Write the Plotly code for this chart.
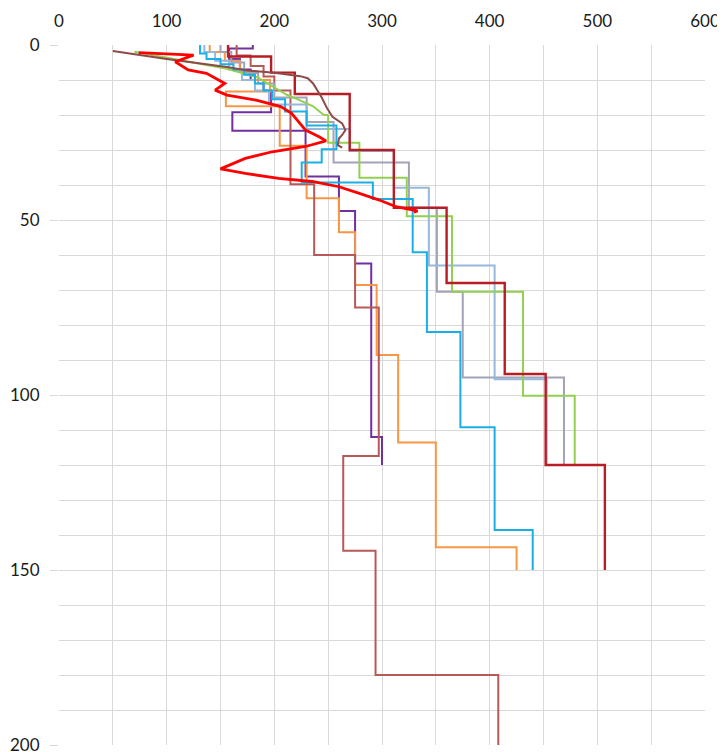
import plotly.graph_objects as go

# ---- layered step profiles: velocity per layer, depth boundaries (len = len(v)+1)
purple_v = [180, 158, 168, 178, 190, 197, 161, 229, 260, 275, 290, 300]
purple_z = [0, 1, 4, 7, 10, 13, 19.2, 24.5, 37.6, 47.4, 62.4, 112, 120]

orange_v = [140, 154, 168, 182, 196, 155, 205, 230, 260, 275, 295, 315, 350, 425]
orange_z = [0, 2, 4.5, 7.5, 10, 13.3, 17.5, 28.8, 43.8, 53.5, 68.6, 88.6, 113.6, 143.5, 150]

indred_v = [165, 178, 190, 200, 215, 237, 275, 297, 264, 294, 408]
indred_z = [0, 3, 6, 9, 13, 39.8, 60, 75, 117.4, 144.5, 180, 200]

gray_v = [150, 160, 172, 185, 200, 230, 255, 325, 351, 375, 469]
gray_z = [0, 2, 5, 8, 11, 15, 22, 33.6, 46.5, 70.5, 95, 120]

ltblue_v = [135, 145, 158, 170, 182, 195, 230, 270, 311, 343.5, 404.6, 453]
ltblue_z = [0, 2, 4.5, 7, 10, 13, 17, 24, 30.3, 40.8, 63, 95.5, 120]

green_curve_v = [70, 156, 184, 212, 224, 236, 246]
green_curve_z = [1.9, 6.8, 9.2, 14.3, 15.8, 17.5, 20]
green_v = [250, 279, 323, 365, 431, 479]
green_z = [20, 27.9, 37.9, 48.9, 70.5, 100.2, 120]

cyan_v = [131, 137, 150, 162, 172, 182, 190, 198, 210, 230, 257.7, 244, 225.4,
          291.5, 328.5, 341.7, 372.8, 404.6, 440]
cyan_z = [0, 2.4, 4, 5.5, 7, 8.5, 11, 13, 15.5, 19, 23, 29.8, 33.6, 39.3, 44,
          59.2, 82, 109.2, 138.6, 150]

dkred_v = [157, 197, 219, 270, 311, 360, 414, 452, 507]
dkred_z = [0, 3.3, 7.9, 14, 30, 46.5, 68, 94, 120, 150]

# ---- continuous profiles
brown_v = [50, 100, 156, 174.5, 200, 224, 231, 236, 244, 249, 254, 263, 266, 263, 260, 259, 263]
brown_z = [1.7, 4, 6.3, 7.3, 7.9, 8.9, 9.5, 11, 15, 18.1, 20.5, 22.4, 24.3, 25.7, 26.7, 28.6, 29.3]

red_v = [74, 125, 108, 120, 137, 154, 145, 156, 184, 206, 216, 224, 229, 241.6, 248,
         229, 198, 173, 150, 173, 204, 235, 260, 279, 297.5, 313, 327, 333, 329.6]
red_z = [2.2, 2.9, 4.8, 7.1, 8.1, 11, 12.9, 14.3, 15.8, 17.6, 19.5, 22.4, 24.3, 26.2, 27.4,
         29, 30.5, 32.4, 35.4, 36.7, 38.1, 39, 40.5, 42.4, 44.3, 46.2, 46.9, 47.4, 47.8]

x_ticks = [0, 100, 200, 300, 400, 500, 600]
y_ticks = [0, 50, 100, 150, 200]


def step_trace(v, z, color, width=2.0):
    return go.Scatter(x=list(v) + [v[-1]], y=list(z), mode="lines",
                      line=dict(color=color, width=width, shape="vh"),
                      hoverinfo="skip", showlegend=False)


fig = go.Figure()
fig.add_trace(step_trace(purple_v, purple_z, "#7030A0"))
fig.add_trace(step_trace(orange_v, orange_z, "#F79646"))
fig.add_trace(step_trace(indred_v, indred_z, "#B65A58"))
fig.add_trace(step_trace(gray_v, gray_z, "#A3A3B8"))
fig.add_trace(step_trace(ltblue_v, ltblue_z, "#95B8DC"))
# green: smooth upper part joined to the step part
fig.add_trace(go.Scatter(x=list(green_curve_v) + [green_v[0]], y=list(green_curve_z) + [green_z[0]],
                         mode="lines", line=dict(color="#92D050", width=2), showlegend=False, hoverinfo="skip"))
fig.add_trace(step_trace(green_v, green_z, "#92D050"))
fig.add_trace(step_trace(cyan_v, cyan_z, "#1AAFE6"))
fig.add_trace(step_trace(dkred_v, dkred_z, "#B81C24", 2.4))
fig.add_trace(go.Scatter(x=brown_v, y=brown_z, mode="lines",
                         line=dict(color="#8E4A49", width=2), showlegend=False, hoverinfo="skip"))
fig.add_trace(go.Scatter(x=red_v, y=red_z, mode="lines",
                         line=dict(color="#FF0000", width=2.8), showlegend=False, hoverinfo="skip"))

grid = "#D9D9D9"
font = dict(family="Lato, Noto Sans, sans-serif", size=17, color="#1a1a1a")
# the page body has an 8px margin, so the figure is made 8px smaller and margins shifted
fig.update_layout(
    width=717, height=744,
    margin=dict(l=51, r=20, t=37, b=7),
    paper_bgcolor="white", plot_bgcolor="white",
    showlegend=False,
    xaxis=dict(side="top", range=[0, 600], tickvals=x_ticks, ticktext=[str(t) for t in x_ticks],
               showgrid=True, gridcolor=grid, gridwidth=1, zeroline=False, showline=False,
               ticks="", tickfont=font, ticklabelstandoff=14, automargin=False,
               ticklabeloverflow="allow",
               minor=dict(dtick=50, showgrid=True, gridcolor=grid, gridwidth=1)),
    yaxis=dict(range=[200, 0], tickvals=y_ticks, ticktext=[str(t) for t in y_ticks],
               showgrid=True, gridcolor=grid, gridwidth=1, zeroline=False, showline=False,
               ticks="outside", ticklen=8, tickcolor=grid, tickfont=font, automargin=False,
               ticklabelstandoff=7, ticklabeloverflow="allow",
               minor=dict(dtick=10, showgrid=True, gridcolor=grid, gridwidth=1)),
)
fig.write_html("out.html")
